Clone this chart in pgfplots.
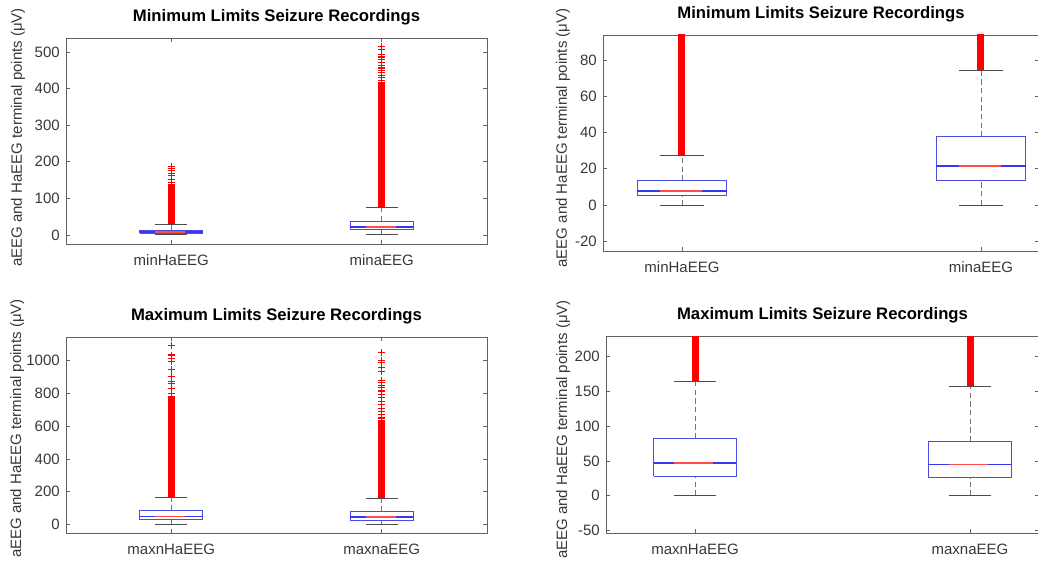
\documentclass[border=0pt]{standalone}
\usepackage{pgfplots}
\pgfplotsset{compat=1.18}
\usepackage{fontspec}
\setmainfont{Liberation Sans}

\definecolor{boxblue}{rgb}{0.30,0.30,0.90}
\definecolor{medblue}{rgb}{0.22,0.22,0.95}
\definecolor{medred}{rgb}{1.0,0.30,0.30}
\definecolor{axgray}{rgb}{0.38,0.38,0.38}
\definecolor{txtgray}{rgb}{0.22,0.22,0.22}

\pgfplotsset{
  whisk/.style={black!55, line width=0.6pt, dash pattern=on 4pt off 2.5pt, forget plot},
  capst/.style={black!70, line width=0.6pt, forget plot},
  boxst/.style={boxblue, line width=0.6pt, line join=miter, forget plot},
  medb/.style={medblue, line width=1.1pt, forget plot},
  medr/.style={medred, line width=1.1pt, forget plot},
  outl/.style={only marks, red, mark=+, mark size=2.6pt, mark options={line width=0.8pt, solid, red}, forget plot},
  band/.style={red, line width=5.25pt, forget plot},
  mlaxis/.style={
    scale only axis, anchor=south west,
    axis line style={axgray, line width=0.5pt},
    tick style={axgray, line width=0.5pt},
    major tick length=3pt,
    tick align=inside,
    xtick={1,2},
    minor tick num=0,
    ticklabel style={font=\fontsize{11.25}{13}\selectfont, text=txtgray},
    /pgf/number format/assume math mode=true,
    /pgf/number format/1000 sep={},
    scaled y ticks=false,
    yticklabel style={anchor=east, inner sep=0pt, xshift=-4.5pt},
    xticklabel style={anchor=center, inner sep=0pt, yshift=-12pt},
    ylabel={aEEG and HaEEG terminal points (μV)},
    ylabel style={font=\fontsize{11.25}{13}\selectfont, text=txtgray, anchor=center},
    title style={font=\bfseries\fontsize{12.5}{14}\selectfont, anchor=center, at={(axis description cs:0.5,1)}},
    clip=true,
  },
}

% box: position, lower whisker, Q1, median, Q3, upper whisker
\newcommand{\mlbox}[6]{%
  \pgfmathsetmacro\xa{#1-0.15}\pgfmathsetmacro\xb{#1+0.15}%
  \pgfmathsetmacro\ca{#1-0.075}\pgfmathsetmacro\cb{#1+0.075}%
  \pgfmathsetmacro\ma{#1-0.075}\pgfmathsetmacro\mb{#1+0.066}%
  \edef\doplots{%
    \noexpand\addplot[whisk] coordinates {(#1,#2) (#1,#3)};
    \noexpand\addplot[whisk] coordinates {(#1,#5) (#1,#6)};
    \noexpand\addplot[capst] coordinates {(\ca,#2) (\cb,#2)};
    \noexpand\addplot[capst] coordinates {(\ca,#6) (\cb,#6)};
    \noexpand\addplot[boxst] coordinates {(\xa,#3) (\xb,#3) (\xb,#5) (\xa,#5) (\xa,#3)};
    \noexpand\addplot[medb] coordinates {(\xa,#4) (\xb,#4)};
    \noexpand\addplot[medr] coordinates {(\ma,#4) (\mb,#4)};
  }\doplots}

\begin{document}
\begin{tikzpicture}
\useasboundingbox (0,0) rectangle (778.5pt,423.75pt);

% ---------- top left ----------
\begin{axis}[mlaxis, at={(49.5pt,240.75pt)}, width=315.75pt, height=154.5pt,
  xmin=0.5, xmax=2.5, ymin=-25, ymax=538,
  ytick={0,100,200,300,400,500},
  xticklabels={minHaEEG,minaEEG},
  title={Minimum Limits Seizure Recordings},
  title style={yshift=9.75pt},
  ylabel style={at={(axis description cs:-0.114,0.517)}}]
\addplot[band] coordinates {(1,27.3) (1,140)};
\addplot[band] coordinates {(2,74.4) (2,418)};
\addplot[outl] coordinates {(1,143) (1,152) (1,161) (1,168) (1,175) (1,182) (1,188)};
\addplot[outl] coordinates {(2,423) (2,430) (2,436) (2,443) (2,450) (2,456) (2,464) (2,471) (2,478) (2,486) (2,494) (2,507) (2,515)};
\mlbox{1}{0}{5}{7.8}{13.5}{27.3}
\mlbox{2}{0}{13.7}{21.6}{37.7}{74.4}
\end{axis}

% ---------- top right ----------
\begin{axis}[mlaxis, at={(452.25pt,235.5pt)}, width=327pt, height=162pt,
  xmin=0.736, xmax=2.194, ymin=-25.5, ymax=94,
  ytick={-20,0,20,40,60,80},
  xticklabels={minHaEEG,minaEEG},
  title={Minimum Limits Seizure Recordings},
  title style={yshift=9.4pt},
  ylabel style={at={(axis description cs:-0.092,0.523)}}]
\addplot[band] coordinates {(1,27.3) (1,140)};
\addplot[band] coordinates {(2,74.4) (2,418)};
\mlbox{1}{0}{5}{7.8}{13.5}{27.3}
\mlbox{2}{0}{13.7}{21.6}{37.7}{74.4}
\end{axis}

% ---------- bottom left ----------
\begin{axis}[mlaxis, at={(49.5pt,24pt)}, width=315.75pt, height=147pt,
  xmin=0.5, xmax=2.5, ymin=-53, ymax=1145,
  ytick={0,200,400,600,800,1000},
  xticklabels={maxnHaEEG,maxnaEEG},
  title={Maximum Limits Seizure Recordings},
  title style={yshift=9.75pt},
  ylabel style={at={(axis description cs:-0.116,0.533)}}]
\addplot[band] coordinates {(1,164.6) (1,785)};
\addplot[band] coordinates {(2,157.4) (2,630)};
\addplot[outl] coordinates {(1,800) (1,830) (1,860) (1,872) (1,905) (1,945) (1,995) (1,1015) (1,1035) (1,1095)};
\addplot[outl] coordinates {(2,635) (2,650) (2,670) (2,690) (2,710) (2,730) (2,750) (2,775) (2,795) (2,815) (2,835) (2,850) (2,865) (2,880) (2,935) (2,960) (2,990) (2,1000) (2,1050)};
\mlbox{1}{0}{27.9}{46.6}{82.6}{164.6}
\mlbox{2}{0}{25.9}{44.6}{78.3}{157.4}
\end{axis}

% ---------- bottom right ----------
\begin{axis}[mlaxis, at={(454.5pt,24pt)}, width=324.75pt, height=147.75pt,
  xmin=0.676, xmax=2.251, ymin=-54, ymax=230,
  ytick={-50,0,50,100,150,200},
  xticklabels={maxnHaEEG,maxnaEEG},
  title={Maximum Limits Seizure Recordings},
  title style={yshift=9.4pt},
  ylabel style={at={(axis description cs:-0.099,0.525)}}]
\addplot[band] coordinates {(1,164.6) (1,785)};
\addplot[band] coordinates {(2,157.4) (2,630)};
\mlbox{1}{0}{27.9}{46.6}{82.6}{164.6}
\mlbox{2}{0}{25.9}{44.6}{78.3}{157.4}
\end{axis}
\end{tikzpicture}
\end{document}
